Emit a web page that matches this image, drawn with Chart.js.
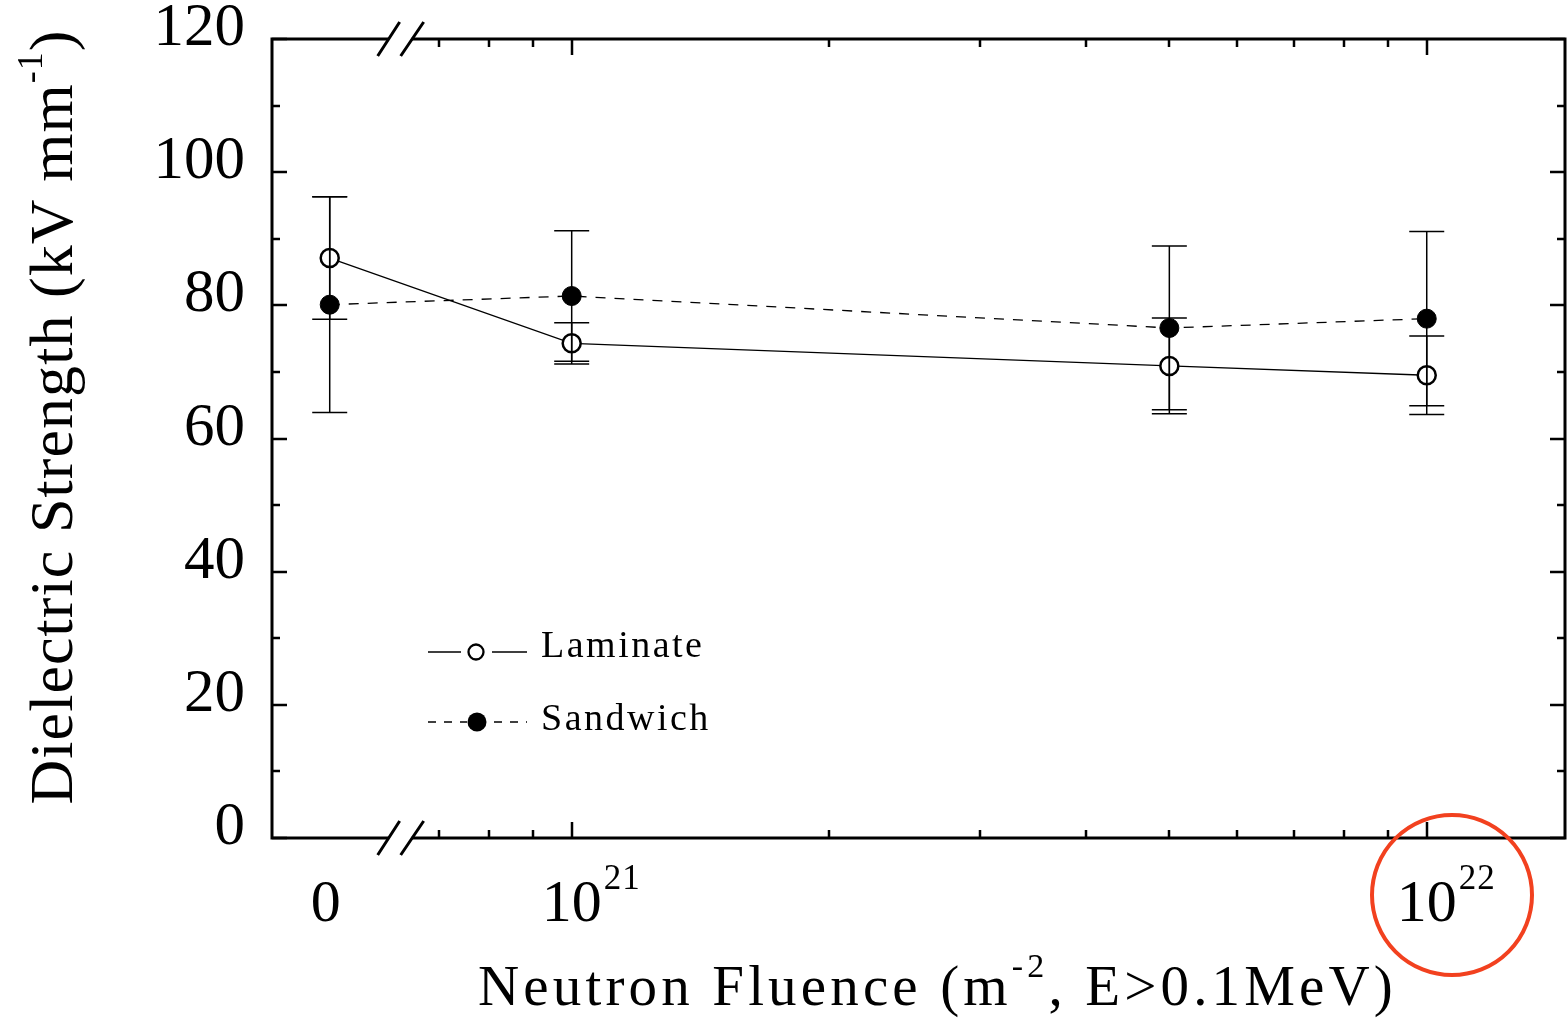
<!DOCTYPE html>
<html>
<head>
<meta charset="utf-8">
<script src="https://cdn.jsdelivr.net/npm/chart.js@4.4.1/dist/chart.umd.min.js"></script>
<style>
  html, body { margin: 0; padding: 0; background: #fff; }
  #wrap { width: 1567px; height: 1018px; }
</style>
</head>
<body>
<div id="wrap"><canvas id="chart"></canvas></div>
<script>
// data
const fluence = [0, 1e21, 5e21, 1e22];
const laminate = [87.1, 74.3, 70.9, 69.5];
const laminateErr = [9.2, 3.1, 7.2, 5.9];
const sandwich = [80.1, 81.4, 76.6, 78.0];
const sandwichErr = [16.2, 9.8, 12.3, 13.1];

const yTicks = [0, 20, 40, 60, 80, 100, 120];
const yMinorTicks = [10, 30, 50, 70, 90, 110];
const xMajorTicks = [1e21, 1e22];
const xMinorTicks = [7e20, 8e20, 9e20, 2e21, 3e21, 4e21, 5e21, 6e21, 7e21, 8e21, 9e21];
const xTickLabels = [
  { at: 0, base: "0", sup: "" },
  { at: 1e21, base: "10", sup: "21" },
  { at: 1e22, base: "10", sup: "22" },
];

// x axis runs in log10 units; "0" sits left of the axis break
const ZERO_POS = 20.717;
const BREAK_POS = 20.8;
const xPos = (f) => (f === 0 ? ZERO_POS : Math.log10(f));

const SERIF = "'Liberation Serif', 'Times New Roman', serif";

const points = (vals) => fluence.map((f, i) => ({ x: xPos(f), y: vals[i] }));

const errorBars = {
  id: "errorBars",
  afterDatasetsDraw(chart) {
    const { ctx, scales: { x, y } } = chart;
    ctx.save();
    ctx.strokeStyle = "#000";
    ctx.lineWidth = 1.5;
    chart.data.datasets.forEach((ds) => {
      ds.data.forEach((p, i) => {
        const px = x.getPixelForValue(p.x);
        const top = y.getPixelForValue(p.y + ds.err[i]);
        const bot = y.getPixelForValue(p.y - ds.err[i]);
        ctx.beginPath();
        ctx.moveTo(px, top);
        ctx.lineTo(px, bot);
        ctx.moveTo(px - 17.5, top);
        ctx.lineTo(px + 17.5, top);
        ctx.moveTo(px - 17.5, bot);
        ctx.lineTo(px + 17.5, bot);
        ctx.stroke();
      });
    });
    ctx.restore();
  },
};

function richWidth(ctx, parts, size, supSize, spacing) {
  ctx.letterSpacing = spacing + "px";
  return parts.map(([t, s]) => {
    ctx.font = (s ? supSize : size) + "px " + SERIF;
    return ctx.measureText(t).width;
  });
}

// draws text made of normal and superscript parts, centred on x
function richText(ctx, parts, x, y, o) {
  let spacing = o.spacing || 0;
  let widths = richWidth(ctx, parts, o.size, o.supSize, spacing);
  if (o.fit) {
    const n = parts.reduce((a, [t]) => a + t.length, 0);
    const natural = richWidth(ctx, parts, o.size, o.supSize, 0).reduce((a, b) => a + b, 0);
    spacing = (o.fit - natural) / n;
    widths = richWidth(ctx, parts, o.size, o.supSize, spacing);
  }
  const total = widths.reduce((a, b) => a + b, 0);
  let cx = x - total / 2;
  ctx.letterSpacing = spacing + "px";
  ctx.textAlign = "left";
  ctx.textBaseline = "alphabetic";
  parts.forEach(([t, s], i) => {
    ctx.font = (s ? o.supSize : o.size) + "px " + SERIF;
    ctx.fillText(t, cx, s ? y - o.rise : y);
    cx += widths[i];
  });
}

const frame = {
  id: "frame",
  afterDraw(chart) {
    const { ctx, chartArea: a, scales: { x, y } } = chart;
    ctx.save();
    ctx.strokeStyle = "#000";
    ctx.fillStyle = "#000";

    // box
    ctx.lineWidth = 3;
    ctx.strokeRect(a.left, a.top, a.right - a.left, a.bottom - a.top);

    // y ticks, inward on both sides
    ctx.lineWidth = 2.5;
    ctx.beginPath();
    yTicks.concat(yMinorTicks).forEach((v) => {
      const py = Math.round(y.getPixelForValue(v));
      const len = yTicks.includes(v) ? 15 : 8;
      ctx.moveTo(a.left, py);
      ctx.lineTo(a.left + len, py);
      ctx.moveTo(a.right, py);
      ctx.lineTo(a.right - len, py);
    });
    // x ticks, inward on top and bottom
    xMajorTicks.concat(xMinorTicks).forEach((v) => {
      const px = Math.round(x.getPixelForValue(Math.log10(v)));
      const len = xMajorTicks.includes(v) ? 16 : 8;
      ctx.moveTo(px, a.bottom);
      ctx.lineTo(px, a.bottom - len);
      ctx.moveTo(px, a.top);
      ctx.lineTo(px, a.top + len);
    });
    ctx.stroke();

    // axis break marks
    const bx = x.getPixelForValue(BREAK_POS);
    [a.top, a.bottom].forEach((ay) => {
      ctx.fillStyle = "#fff";
      ctx.fillRect(bx - 12, ay - 3, 23, 6);
      ctx.beginPath();
      ctx.moveTo(bx - 23, ay + 17);
      ctx.lineTo(bx - 1, ay - 17);
      ctx.moveTo(bx, ay + 17);
      ctx.lineTo(bx + 23, ay - 17);
      ctx.lineWidth = 3;
      ctx.stroke();
    });

    ctx.fillStyle = "#000";
    // x tick labels with superscript exponents
    xTickLabels.forEach((t) => {
      const px = x.getPixelForValue(xPos(t.at)) - (t.at === 0 ? 4 : 0);
      ctx.letterSpacing = "0px";
      ctx.font = "60px " + SERIF;
      ctx.textAlign = "center";
      ctx.textBaseline = "alphabetic";
      ctx.fillText(t.base, px, 921);
      if (t.sup) {
        const w = ctx.measureText(t.base).width;
        ctx.font = "35px " + SERIF;
        ctx.letterSpacing = "1px";
        ctx.textAlign = "left";
        ctx.fillText(t.sup, px + w / 2 + 2, 889);
      }
    });

    // axis titles
    richText(ctx, [["Neutron Fluence (m", false], ["-2", true], [", E>0.1MeV)", false]],
      (478 + 1397) / 2, 1005, { size: 57, supSize: 34, rise: 28, fit: 919 });

    ctx.save();
    ctx.translate(72, 417);
    ctx.rotate(-Math.PI / 2);
    richText(ctx, [["Dielectric Strength (kV mm", false], ["-1", true], [")", false]],
      0, 0, { size: 62, supSize: 36, rise: 30, fit: 775 });
    ctx.restore();

    // legend
    ctx.lineWidth = 1.3;
    ctx.beginPath();
    ctx.moveTo(428, 652); ctx.lineTo(461, 652);
    ctx.moveTo(492, 652); ctx.lineTo(527, 652);
    ctx.stroke();
    ctx.beginPath();
    ctx.arc(476, 652, 7.5, 0, Math.PI * 2);
    ctx.fillStyle = "#fff";
    ctx.fill();
    ctx.lineWidth = 2.3;
    ctx.stroke();

    ctx.lineWidth = 1.3;
    ctx.setLineDash([8, 8]);
    ctx.beginPath();
    ctx.moveTo(428, 722); ctx.lineTo(467, 722);
    ctx.moveTo(494, 722); ctx.lineTo(527, 722);
    ctx.stroke();
    ctx.setLineDash([]);
    ctx.beginPath();
    ctx.arc(477, 722, 9.5, 0, Math.PI * 2);
    ctx.fillStyle = "#000";
    ctx.fill();

    ctx.font = "38px " + SERIF;
    ctx.letterSpacing = "2.5px";
    ctx.textAlign = "left";
    ctx.textBaseline = "alphabetic";
    ctx.fillText("Laminate", 541, 657);
    ctx.fillText("Sandwich", 541, 730);

    // red highlight circle round the 10^22 label
    ctx.strokeStyle = "#f2411f";
    ctx.lineWidth = 4;
    ctx.beginPath();
    ctx.arc(1452, 895, 80, 0, Math.PI * 2);
    ctx.stroke();

    ctx.restore();
  },
};

const ctx = document.getElementById("chart").getContext("2d");
new Chart(ctx, {
  type: "line",
  data: {
    datasets: [
      {
        label: "Laminate",
        data: points(laminate),
        err: laminateErr,
        borderColor: "#000",
        borderWidth: 1.3,
        pointRadius: 9,
        pointBorderWidth: 2.5,
        pointBorderColor: "#000",
        pointBackgroundColor: "#fff",
      },
      {
        label: "Sandwich",
        data: points(sandwich),
        err: sandwichErr,
        borderColor: "#000",
        borderWidth: 1.3,
        borderDash: [10, 9],
        pointRadius: 9.5,
        pointBorderWidth: 1,
        pointBorderColor: "#000",
        pointBackgroundColor: "#000",
      },
    ],
  },
  options: {
    responsive: true,
    maintainAspectRatio: false,
    animation: false,
    devicePixelRatio: 1,
    layout: {
      autoPadding: false,
      padding: { left: 0, right: 2, top: 39, bottom: 180 },
    },
    plugins: {
      legend: { display: false },
      tooltip: { enabled: false },
    },
    scales: {
      x: {
        type: "linear",
        min: 20.6495,
        max: 22.1617,
        display: false,
      },
      y: {
        min: 0,
        max: 120,
        afterBuildTicks: (scale) => {
          scale.ticks = yTicks.map((v) => ({ value: v }));
        },
        afterFit: (scale) => {
          scale.width = 272;
          scale.paddingTop = 0;
          scale.paddingBottom = 0;
        },
        grid: { display: false, drawTicks: false },
        border: { display: false },
        ticks: {
          color: "#000",
          padding: 27,
          labelOffset: -10,
          font: { family: SERIF, size: 61 },
        },
      },
    },
  },
  plugins: [errorBars, frame],
});
</script>
</body>
</html>
